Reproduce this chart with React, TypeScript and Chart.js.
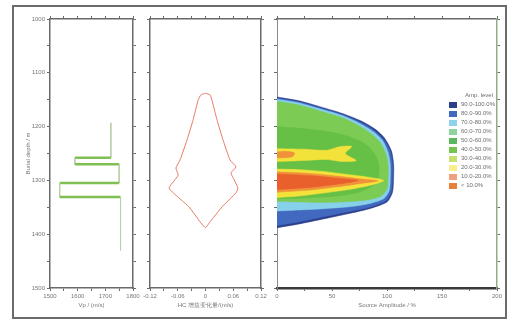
import React, { useEffect, useRef } from "react";
import { Chart, registerables } from "chart.js";

Chart.register(...registerables);

const PAGE_W = 513;
const PAGE_H = 325;

// ---------- shared depth axis ----------
const depthMin = 1000;
const depthMax = 1500;
const depthStep = 50;
const depthTitle = "Burial depth / m";

// ---------- panel 1 : velocity log ----------
const velocityMin = 1500;
const velocityMax = 1800;
const velocityStep = 50;
const velocityTitle = "Vp / (m/s)";
const logVelocity = [1720, 1720, 1590, 1590, 1750, 1750, 1535, 1535, 1755, 1755];
const logDepth = [1193, 1258, 1258, 1270, 1270, 1305, 1305, 1331, 1331, 1430];

// ---------- panel 2 : difference outline ----------
const diffMin = -0.12;
const diffMax = 0.12;
const diffStep = 0.03;
const diffTitle = "HC 增益变化量/(m/s)";
const diffValue = [0, 0.01, 0.014, 0.025, 0.038, 0.053, 0.066, 0.055, 0.062, 0.07, 0.066, 0.036, 0.008, 0, -0.01, -0.036, -0.07, -0.079, -0.068, -0.059, -0.064, -0.055, -0.04, -0.027, -0.016, -0.01, 0];
const diffDepth = [1138, 1141, 1151, 1188, 1225, 1262, 1275, 1286, 1299, 1314, 1323, 1349, 1379, 1388, 1379, 1349, 1323, 1314, 1301, 1290, 1277, 1262, 1225, 1188, 1151, 1141, 1138];

// ---------- panel 3 : amplitude contour bands [amplitude %, depth] ----------
const ampMin = 0;
const ampMax = 200;
const ampStep = 25;
const ampTitle = "Source Amplitude / %";
const bandNavy = [[0, 1145], [20, 1152], [39, 1163], [60, 1176], [78, 1191], [90, 1206], [98, 1222], [104, 1245], [106, 1270], [106, 1295], [105, 1322], [100, 1340], [85, 1352], [69, 1360], [39, 1373], [20, 1381], [0, 1388]];
const bandBlue = [[0, 1147], [20, 1154], [39, 1165], [60, 1178], [77, 1193], [89, 1208], [97, 1224], [103, 1246], [105, 1270], [105, 1295], [104, 1321], [99, 1338], [84, 1350], [68, 1357], [39, 1369], [20, 1377], [0, 1384]];
const bandCyan = [[0, 1149], [20, 1156], [39, 1167], [60, 1180], [76, 1195], [88, 1210], [96, 1226], [101, 1248], [103, 1270], [103, 1295], [102, 1319], [97, 1334], [82, 1344], [66, 1349], [39, 1353], [20, 1355], [0, 1357]];
const bandGreen = [[0, 1153], [20, 1160], [39, 1171], [60, 1184], [75, 1199], [86, 1214], [94, 1230], [99, 1251], [101, 1270], [101, 1295], [100, 1316], [94, 1330], [80, 1337], [60, 1340], [39, 1341], [20, 1340], [0, 1339]];
const bandGreenMid = [[0, 1200], [30, 1205], [60, 1215], [80, 1232], [90, 1255], [93, 1280], [90, 1305], [75, 1322], [50, 1330], [20, 1333], [0, 1334]];
const bandYellowLow = [[0, 1279], [20, 1280], [40, 1283], [60, 1288], [80, 1293], [97, 1300], [85, 1309], [65, 1317], [40, 1324], [20, 1329], [0, 1332]];
const bandOrange = [[0, 1284], [30, 1287], [55, 1292], [75, 1297], [92, 1301], [75, 1306], [55, 1312], [30, 1318], [0, 1322]];
const bandRed = [[0, 1288], [30, 1291], [55, 1296], [74, 1300], [55, 1307], [30, 1313], [0, 1317]];
const bandYellowHigh = [[0, 1241], [25, 1242], [45, 1244], [58, 1237], [68, 1237], [62, 1250], [72, 1263], [60, 1265], [45, 1261], [25, 1263], [0, 1265]];
const bandOrangeHigh = [[0, 1247], [8, 1246], [16, 1249], [14, 1256], [6, 1258], [0, 1258]];

const contourBands = [
  { data: bandNavy, color: "#2c3f8c" },
  { data: bandBlue, color: "#4169c0" },
  { data: bandCyan, color: "#86d0ea" },
  { data: bandGreen, color: "#7ccb55" },
  { data: bandGreenMid, color: "#66c046" },
  { data: bandYellowLow, color: "#f3e23a" },
  { data: bandOrange, color: "#f0923a" },
  { data: bandRed, color: "#e9602c" },
  { data: bandYellowHigh, color: "#f3e23a" },
  { data: bandOrangeHigh, color: "#f0923a" },
];

// ---------- legend ----------
const legendTitle = "Amp. level";
const legendLabels = ["90.0-100.0%", "80.0-90.0%", "70.0-80.0%", "60.0-70.0%", "50.0-60.0%", "40.0-50.0%", "30.0-40.0%", "20.0-30.0%", "10.0-20.0%", "< 10.0%"];
const legendColors = ["#2c3f8c", "#4169c0", "#8fd2ec", "#8ed4a0", "#5cb85c", "#76c450", "#c8e070", "#f6ef8a", "#f0a07a", "#e8803a"];

// ---------- styling ----------
const TXT = "#777";
const AX = "#6a6a6a";
const FONT = { family: "'Liberation Sans', Arial, sans-serif", size: 6 };

type Area = { l: number; t: number; r: number; b: number };

function fixer(size: number) {
  return (s: any) => {
    if (s.isHorizontal()) s.height = size;
    else s.width = size;
    s.paddingLeft = 0;
    s.paddingRight = 0;
    s.paddingTop = 0;
    s.paddingBottom = 0;
  };
}

function fmtNum(v: number) {
  if (Math.abs(v) < 1e-9) return "0";
  if (Math.abs(v) < 1) return v.toFixed(2);
  return String(Math.round(v));
}

function axis(opts: {
  pos: "left" | "right" | "top" | "bottom";
  size: number;
  min: number;
  max: number;
  step: number;
  labels: boolean;
  reverse?: boolean;
  title?: string;
  titlePad?: number;
  borderColor?: string;
  borderWidth?: number;
}) {
  return {
    type: "linear",
    position: opts.pos,
    display: true,
    min: opts.min,
    max: opts.max,
    reverse: !!opts.reverse,
    afterFit: fixer(opts.size),
    border: { display: true, color: opts.borderColor || AX, width: opts.borderWidth || 1.5 },
    grid: { drawOnChartArea: false, drawTicks: true, tickLength: 3, color: AX, tickColor: AX, tickWidth: 1 },
    ticks: {
      display: opts.labels,
      stepSize: opts.step,
      autoSkip: false,
      maxRotation: 0,
      padding: 2,
      color: TXT,
      font: FONT,
      callback: (v: number, i: number) => (i % 2 === 0 ? fmtNum(v) : ""),
    },
    title: opts.title
      ? { display: true, text: opts.title, color: TXT, font: FONT, padding: { top: opts.titlePad || 0, bottom: opts.titlePad || 0 } }
      : { display: false },
  };
}

function buildScales(a: Area, x: { min: number; max: number; step: number; title: string }, yLabels: boolean, extra?: any) {
  return {
    x: axis({ pos: "bottom", size: PAGE_H - a.b, min: x.min, max: x.max, step: x.step, labels: true, title: x.title, titlePad: 16.4, ...(extra?.bottom || {}) }),
    x2: axis({ pos: "top", size: a.t, min: x.min, max: x.max, step: x.step, labels: false, ...(extra?.top || {}) }),
    y: axis({ pos: "left", size: a.l, min: depthMin, max: depthMax, step: depthStep, labels: yLabels, reverse: true, title: yLabels ? depthTitle : undefined, titlePad: 24.4, ...(extra?.left || {}) }),
    y2: axis({ pos: "right", size: PAGE_W - a.r, min: depthMin, max: depthMax, step: depthStep, labels: false, reverse: true, ...(extra?.right || {}) }),
  };
}

function baseOptions(scales: any) {
  return {
    responsive: false,
    animation: false,
    devicePixelRatio: 1,
    events: [],
    layout: { padding: 0 },
    plugins: { legend: { display: false }, tooltip: { enabled: false }, title: { display: false } },
    scales,
  };
}

function makePanel1(canvas: HTMLCanvasElement) {
  const area: Area = { l: 50, t: 19, r: 133, b: 288 };
  return new Chart(canvas, {
    type: "scatter",
    data: {
      datasets: [
        {
          data: logVelocity.map((v, i) => ({ x: v, y: logDepth[i] })),
          showLine: true,
          pointRadius: 0,
          borderColor: "#b9cfa8",
          borderWidth: 1,
          tension: 0,
          segment: {
            borderWidth: (c: any) => (c.p0.parsed.y === c.p1.parsed.y ? 2.5 : 1),
            borderColor: (c: any) => (c.p0.parsed.y === c.p1.parsed.y ? "#80bf52" : "#b9cfa8"),
          },
        },
      ],
    },
    options: baseOptions(buildScales(area, { min: velocityMin, max: velocityMax, step: velocityStep, title: velocityTitle }, true)) as any,
  } as any);
}

function makePanel2(canvas: HTMLCanvasElement) {
  const area: Area = { l: 150, t: 19, r: 261, b: 288 };
  return new Chart(canvas, {
    type: "scatter",
    data: {
      datasets: [
        {
          data: diffValue.map((v, i) => ({ x: v, y: diffDepth[i] })),
          showLine: true,
          pointRadius: 0,
          borderColor: "#e57a66",
          borderWidth: 1,
          tension: 0.15,
          fill: false,
        },
      ],
    },
    options: baseOptions(buildScales(area, { min: diffMin, max: diffMax, step: diffStep, title: diffTitle }, false)) as any,
  } as any);
}

function makePanel3(canvas: HTMLCanvasElement) {
  const area: Area = { l: 277, t: 19, r: 497, b: 288 };
  const n = contourBands.length;
  return new Chart(canvas, {
    type: "scatter",
    data: {
      datasets: contourBands.map((b, i) => ({
        data: b.data.map((p) => ({ x: p[0], y: p[1] })),
        showLine: true,
        pointRadius: 0,
        borderColor: b.color,
        backgroundColor: b.color,
        borderWidth: 0.5,
        tension: 0.25,
        fill: "shape",
        order: n - i,
      })),
    },
    options: baseOptions(
      buildScales(area, { min: ampMin, max: ampMax, step: ampStep, title: ampTitle }, false, {
        bottom: { borderColor: "#3a3a3a", borderWidth: 2.5 },
        right: { borderColor: "#8fae86", borderWidth: 1.5 },
        left: { borderColor: "#8a8a8a", borderWidth: 1 },
      })
    ) as any,
  } as any);
}

function Legend() {
  return (
    <div
      style={{
        position: "absolute",
        left: 449,
        top: 91,
        width: 52,
        fontFamily: "'Liberation Sans', Arial, sans-serif",
        fontSize: 6,
        color: "#6d6d6d",
        lineHeight: "9px",
      }}
    >
      <div style={{ height: 9, paddingLeft: 16, whiteSpace: "nowrap" }}>{legendTitle}</div>
      {legendLabels.map((lab, i) => (
        <div key={i} style={{ height: 9, display: "flex", alignItems: "center", whiteSpace: "nowrap" }}>
          <span style={{ width: 8, height: 6, background: legendColors[i], marginRight: 4, flex: "none", display: "inline-block" }} />
          <span>{lab}</span>
        </div>
      ))}
    </div>
  );
}

export default function App() {
  const c1 = useRef<HTMLCanvasElement>(null);
  const c2 = useRef<HTMLCanvasElement>(null);
  const c3 = useRef<HTMLCanvasElement>(null);

  useEffect(() => {
    const charts = [makePanel1(c1.current!), makePanel2(c2.current!), makePanel3(c3.current!)];
    return () => charts.forEach((c) => c.destroy());
  }, []);

  const cv: React.CSSProperties = { position: "absolute", left: 0, top: 0, width: PAGE_W, height: PAGE_H };

  return (
    <div style={{ position: "absolute", left: 0, top: 0, width: PAGE_W, height: PAGE_H, background: "#fff", overflow: "hidden" }}>
      <div
        style={{
          position: "absolute",
          left: 12,
          top: 5,
          width: 495,
          height: 314,
          border: "2px solid #6b6b6b",
          boxSizing: "border-box",
        }}
      />
      <canvas ref={c1} width={PAGE_W} height={PAGE_H} style={cv} />
      <canvas ref={c2} width={PAGE_W} height={PAGE_H} style={cv} />
      <canvas ref={c3} width={PAGE_W} height={PAGE_H} style={cv} />
      <Legend />
    </div>
  );
}
